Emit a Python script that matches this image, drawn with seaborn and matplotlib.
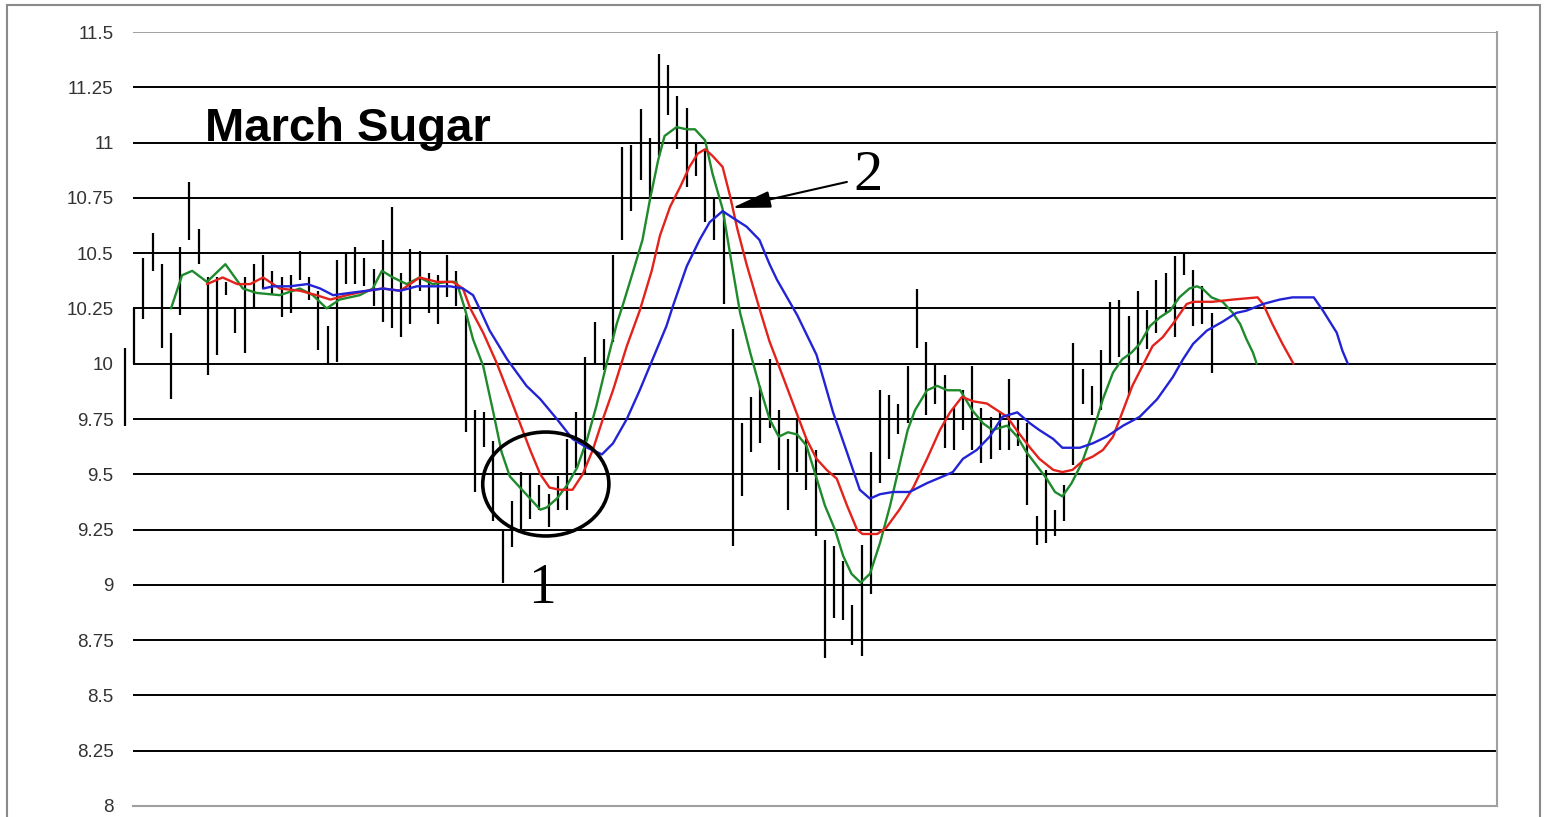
import matplotlib.pyplot as plt
from matplotlib.patches import Ellipse, Rectangle
import numpy as np
import pandas as pd
import seaborn as sns

# Daily price bars (high / low), one per trading day
highs = [10.07, 10.25, 10.48, 10.59, 10.45, 10.14, 10.53, 10.82, 10.61, 10.39,
         10.39, 10.37, 10.25, 10.39, 10.45, 10.49, 10.42, 10.39, 10.40, 10.51,
         10.39, 10.33, 10.17, 10.47, 10.50, 10.53, 10.48, 10.43, 10.56, 10.71,
         10.41, 10.52, 10.51, 10.41, 10.40, 10.49, 10.42, 10.22, 9.79, 9.78,
         9.65, 9.25, 9.38, 9.51, 9.50, 9.45, 9.41, 9.49, 9.66, 9.78,
         10.03, 10.19, 10.11, 10.49, 10.98, 10.99, 11.15, 11.02, 11.40, 11.35,
         11.21, 11.155, 10.995, 10.97, 10.75, 10.69, 10.156, 9.73, 9.85, 9.90,
         10.02, 9.79, 9.66, 9.75, 9.66, 9.61, 9.205, 9.175, 9.11, 8.91,
         9.18, 9.60, 9.88, 9.86, 9.82, 9.99, 10.34, 10.10, 10.00, 9.95,
         9.80, 9.88, 9.99, 9.80, 9.76, 9.78, 9.93, 9.75, 9.73, 9.31,
         9.52, 9.34, 9.45, 10.095, 9.975, 9.90, 10.06, 10.28, 10.29, 10.215,
         10.33, 10.245, 10.38, 10.41, 10.485, 10.50, 10.425, 10.35, 10.23]
lows = [9.72, 10.00, 10.20, 10.42, 10.07, 9.84, 10.22, 10.56, 10.45, 9.95,
        10.04, 10.31, 10.14, 10.05, 10.25, 10.34, 10.31, 10.21, 10.23, 10.38,
        10.29, 10.06, 10.00, 10.01, 10.36, 10.36, 10.35, 10.26, 10.19, 10.16,
        10.12, 10.18, 10.33, 10.23, 10.18, 10.30, 10.26, 9.69, 9.42, 9.625,
        9.29, 9.01, 9.17, 9.25, 9.30, 9.34, 9.26, 9.34, 9.34, 9.53,
        9.50, 10.00, 9.97, 10.10, 10.56, 10.69, 10.83, 10.75, 10.94, 11.125,
        10.97, 10.80, 10.85, 10.64, 10.56, 10.27, 9.175, 9.40, 9.60, 9.64,
        9.71, 9.52, 9.34, 9.51, 9.43, 9.22, 8.67, 8.85, 8.84, 8.73,
        8.68, 8.96, 9.46, 9.57, 9.68, 9.73, 10.07, 9.77, 9.82, 9.62,
        9.61, 9.70, 9.61, 9.55, 9.57, 9.61, 9.61, 9.63, 9.36, 9.18,
        9.19, 9.22, 9.29, 9.54, 9.82, 9.77, 9.79, 10.00, 10.03, 9.855,
        10.00, 10.065, 10.14, 10.23, 10.12, 10.40, 10.17, 10.18, 9.96]
days = list(range(len(highs)))

# Moving averages (day position, price)
green_x = [5.0, 6.2, 7.3, 8.9, 10.9, 12.8, 14.3, 16.8, 19.0, 20.4, 21.9, 23.3,
           25.5, 26.9, 27.9, 29.1, 30.6, 32.0, 33.4, 35.0, 36.0, 36.9, 37.8,
           38.9, 40.0, 40.9, 41.8, 42.9, 44.0, 45.1, 45.8, 46.9, 48.0, 49.1,
           50.2, 51.2, 52.3, 53.4, 54.1, 55.2, 56.2, 57.0, 57.9, 58.6, 59.9,
           61.0, 61.9, 63.0, 63.8, 64.9, 65.9, 66.8, 67.9, 68.9, 70.0, 71.0,
           72.0, 73.0, 74.0, 74.9, 76.0, 77.1, 78.0, 78.9, 79.9, 80.9, 82.0,
           83.1, 84.1, 85.0, 85.8, 87.1, 88.2, 89.3, 90.7, 92.0, 93.2, 94.2,
           95.8, 96.9, 97.9, 99.0, 100.1, 101.0, 101.8, 102.8, 103.9, 105.1,
           106.2, 107.3, 108.3, 109.3, 110.2, 111.3, 112.4, 113.5, 114.5,
           115.6, 116.4, 117.0, 118.0, 119.2, 120.3, 121.1, 121.8, 122.5, 122.9]
green_y = [10.25, 10.40, 10.42, 10.37, 10.45, 10.34, 10.32, 10.31, 10.34, 10.31,
           10.25, 10.29, 10.31, 10.34, 10.42, 10.39, 10.36, 10.39, 10.36, 10.37,
           10.37, 10.25, 10.11, 9.99, 9.78, 9.60, 9.49, 9.44, 9.39, 9.34,
           9.35, 9.39, 9.45, 9.53, 9.66, 9.81, 10.00, 10.18, 10.27, 10.42,
           10.56, 10.74, 10.92, 11.03, 11.07, 11.06, 11.06, 11.01, 10.86, 10.70,
           10.45, 10.23, 10.05, 9.90, 9.75, 9.67, 9.69, 9.68, 9.63, 9.51,
           9.36, 9.25, 9.13, 9.05, 9.01, 9.05, 9.19, 9.36, 9.54, 9.70,
           9.79, 9.88, 9.90, 9.88, 9.88, 9.79, 9.73, 9.70, 9.72, 9.67,
           9.60, 9.54, 9.48, 9.42, 9.40, 9.46, 9.55, 9.69, 9.84, 9.96,
           10.02, 10.05, 10.09, 10.17, 10.21, 10.24, 10.30, 10.34, 10.35, 10.34,
           10.30, 10.28, 10.23, 10.18, 10.11, 10.05, 10.00]

red_x = [8.9, 10.6, 12.2, 13.6, 15.0, 16.8, 19.0, 20.8, 22.3, 24.1, 26.3, 28.0,
         29.9, 32.0, 33.9, 35.6, 36.7, 37.5, 38.9, 40.4, 41.8, 42.9, 44.0, 45.1,
         46.1, 47.2, 48.6, 49.7, 50.8, 51.9, 53.0, 54.5, 55.9, 57.2, 58.1, 59.2,
         60.3, 61.3, 62.2, 63.0, 63.8, 64.9, 65.7, 66.5, 67.5, 68.9, 70.0, 71.1,
         73.0, 74.0, 75.1, 76.2, 77.3, 78.4, 79.5, 80.1, 81.7, 82.7, 84.1, 85.6,
         87.1, 88.5, 89.6, 90.9, 92.1, 93.6, 94.7, 95.8, 97.0, 98.3, 99.3, 100.8,
         101.8, 102.9, 104.0, 105.1, 106.2, 107.3, 108.4, 109.4, 110.5, 111.6,
         112.7, 113.8, 115.3, 116.0, 118.1, 120.3, 123.0, 123.6, 124.6, 125.7,
         126.5, 126.9]
red_y = [10.36, 10.39, 10.36, 10.36, 10.39, 10.34, 10.33, 10.31, 10.29, 10.31,
         10.33, 10.34, 10.33, 10.39, 10.37, 10.37, 10.34, 10.25, 10.14, 10.00,
         9.85, 9.73, 9.61, 9.50, 9.44, 9.43, 9.43, 9.50, 9.61, 9.75,
         9.88, 10.08, 10.24, 10.42, 10.58, 10.71, 10.80, 10.89, 10.95, 10.97,
         10.94, 10.89, 10.76, 10.61, 10.45, 10.25, 10.10, 9.98, 9.77, 9.66,
         9.57, 9.52, 9.48, 9.36, 9.25, 9.23, 9.23, 9.26, 9.34, 9.44,
         9.57, 9.70, 9.78, 9.85, 9.83, 9.82, 9.79, 9.76, 9.69, 9.62,
         9.57, 9.52, 9.51, 9.52, 9.56, 9.58, 9.61, 9.67, 9.79, 9.90,
         9.99, 10.08, 10.12, 10.18, 10.27, 10.28, 10.28, 10.29, 10.30, 10.27,
         10.18, 10.09, 10.03, 10.00]

blue_x = [15.0, 16.1, 17.9, 19.8, 21.2, 22.6, 24.4, 26.3, 28.0, 29.9, 31.7, 33.4,
          35.3, 36.7, 37.8, 38.5, 39.6, 41.5, 43.6, 45.1, 46.9, 48.6, 50.2, 51.8,
          53.0, 54.5, 55.9, 57.3, 58.8, 59.5, 61.0, 62.4, 63.5, 64.9, 66.0, 67.5,
          68.9, 70.0, 70.8, 73.0, 75.1, 76.9, 78.4, 79.8, 80.9, 82.0, 83.4, 85.2,
          87.1, 88.8, 89.9, 91.0, 92.5, 93.9, 95.3, 96.9, 98.3, 99.3, 100.8, 101.8,
          103.7, 105.1, 106.6, 108.4, 110.2, 112.1, 113.8, 114.9, 116.0, 117.5,
          119.2, 120.7, 121.8, 123.6, 125.4, 126.8, 129.1, 130.1, 131.6, 132.2,
          132.8]
blue_y = [10.34, 10.35, 10.35, 10.36, 10.34, 10.31, 10.32, 10.33, 10.34, 10.33,
          10.35, 10.35, 10.35, 10.34, 10.31, 10.25, 10.15, 10.02, 9.90, 9.84,
          9.75, 9.66, 9.62, 9.59, 9.64, 9.75, 9.88, 10.02, 10.17, 10.26,
          10.44, 10.56, 10.64, 10.69, 10.66, 10.62, 10.56, 10.45, 10.38, 10.22,
          10.04, 9.78, 9.60, 9.43, 9.39, 9.41, 9.42, 9.42, 9.46, 9.49,
          9.51, 9.57, 9.61, 9.67, 9.76, 9.78, 9.73, 9.70, 9.66, 9.62,
          9.62, 9.64, 9.67, 9.72, 9.76, 9.84, 9.94, 10.02, 10.09, 10.15,
          10.19, 10.23, 10.24, 10.27, 10.29, 10.30, 10.30, 10.24, 10.14, 10.06,
          10.00]

y_ticks = np.arange(8, 11.51, 0.25)
y_tick_labels = [f'{v:g}' for v in y_ticks]

sns.set_style('white')
plt.rcParams['font.family'] = ['Liberation Sans', 'DejaVu Sans']

fig = plt.figure(figsize=(15.48, 8.17), dpi=100)
ax = fig.add_axes([133 / 1548, 11 / 817, 1364 / 1548, 774 / 817])

# Gray frame round the whole picture
fig.add_artist(Rectangle((7 / 1548, -0.05), 1533 / 1548, 1.05 - 5 / 817,
                         transform=fig.transFigure, fill=False,
                         edgecolor='#8a8a8a', lw=1.5, clip_on=False))

# Price bars
ax.vlines(days, lows, highs, color='black', lw=1.6, clip_on=False, zorder=2)

# Moving averages
sns.lineplot(x=green_x, y=green_y, ax=ax, color='#1e8a2c', lw=1.7,
             sort=False, estimator=None, zorder=3)
sns.lineplot(x=red_x, y=red_y, ax=ax, color='#e3221b', lw=1.7,
             sort=False, estimator=None, zorder=3)
sns.lineplot(x=blue_x, y=blue_y, ax=ax, color='#2323d6', lw=1.7,
             sort=False, estimator=None, zorder=3)

ax.set_xlim(0.87, 149.0)
ax.set_ylim(8, 11.5)
ax.set_xticks([])
ax.set_yticks(y_ticks)
ax.set_yticklabels(y_tick_labels)
ax.tick_params(axis='y', length=0, pad=14, labelsize=13.5, labelcolor='#333333')
ax.yaxis.grid(True, color='black', lw=1.4, zorder=1)
ax.set_axisbelow(True)
# top and bottom gridlines are lighter, as in the original
grid_lines = ax.get_ygridlines()
grid_lines[0].set_color('#a0a0a0')
grid_lines[-1].set_color('#a0a0a0')
for side in ['left', 'top']:
    ax.spines[side].set_visible(False)
for side in ['right', 'bottom']:
    ax.spines[side].set_color('#a0a0a0')
    ax.spines[side].set_linewidth(1.5)

# Annotations
ax.text(8.7, 11.005, 'March Sugar', fontsize=34, fontweight='bold',
        ha='left', va='baseline', color='black')
ax.add_patch(Ellipse((45.7, 9.456), width=13.7, height=0.47, fill=False,
                     edgecolor='black', lw=2.6, zorder=4))
ax.text(45.3, 8.918, '1', fontsize=40, family='Liberation Serif',
        ha='center', va='baseline', color='black')
ax.annotate('', xy=(65.9, 10.704), xytext=(78.4, 10.822),
            arrowprops=dict(arrowstyle='-|>,head_length=1.2,head_width=0.26',
                            color='black', lw=1.5, mutation_scale=20,
                            shrinkA=0, shrinkB=0), zorder=5)
ax.text(80.7, 10.786, '2', fontsize=42, family='Liberation Serif',
        ha='center', va='baseline', color='black')

fig.savefig('out.png', dpi=100)
